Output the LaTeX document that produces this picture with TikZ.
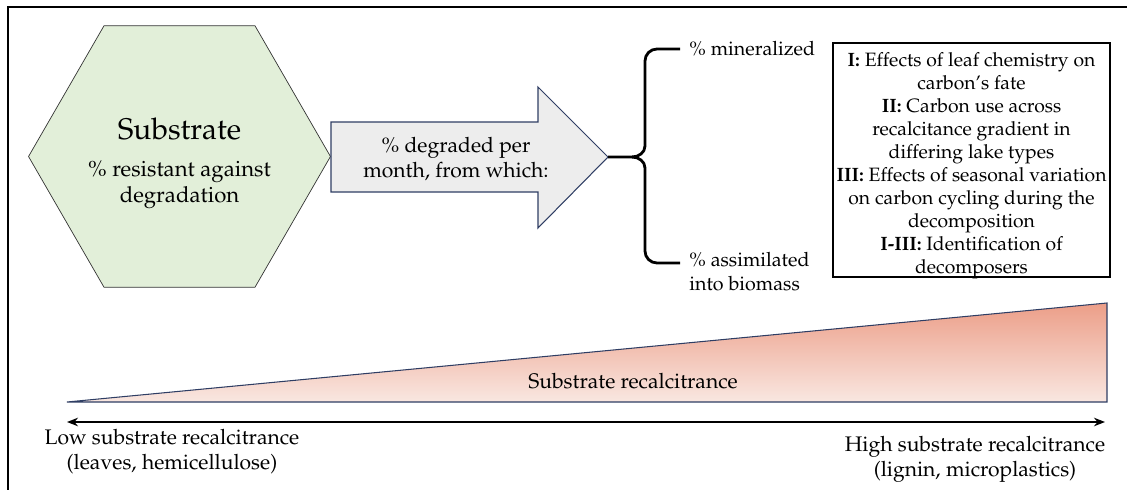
\documentclass[tikz,border=0pt]{standalone}
\usepackage[T1]{fontenc}
\usepackage{mathpazo}
\usetikzlibrary{shapes.geometric,arrows.meta}
\definecolor{leafgreen}{RGB}{226,239,217}
\definecolor{arrowgray}{RGB}{237,237,237}
\definecolor{navyline}{RGB}{47,62,100}
\definecolor{salmontop}{RGB}{236,158,136}
\definecolor{salmonbot}{RGB}{249,231,225}
\begin{document}
\begin{tikzpicture}[x=0.02cm, y=-0.02cm,
    hexa/.style ={regular polygon, regular polygon sides=6, draw=black!80, fill=leafgreen,
      minimum size=6.04cm, inner sep=0pt},
    fatarrow/.style ={draw=navyline, fill=arrowgray, line width=0.6pt},
    curly/.style ={line width=1.6pt},
    plain/.style ={align=center, inner sep=0pt, font=\fontsize{12}{14.2}\selectfont},
    side/.style ={align=left, inner sep=0pt, font=\fontsize{11.2}{13.4}\selectfont},
    studybox/.style ={draw, line width=0.9pt, minimum width=5.54cm, minimum height=4.68cm},
    wedge/.style ={draw=navyline, line width=0.6pt, top color=salmontop, bottom color=salmonbot},
    >={Stealth[length=0.22cm, width=0.17cm]}]
   \useasboundingbox (0,0) rectangle (1127,490);
   % frame
   \draw[line width=1.7pt] (8,490) -- (8,7) -- (1127,7);
   % substrate
   \node[hexa] (sub) at (179.5,156.5) {};
   \node[plain, font=\fontsize{12.6}{14.4}\selectfont] (subtxt) at (179.5,163)
     {{\fontsize{17}{20}\selectfont Substrate}\\[7pt]\% resistant against\\degradation};
   % degradation arrow
   \draw[fatarrow] (331,122) -- (538,122) -- (538,87) -- (608,157) -- (538,228) -- (538,192) -- (331,192) -- cycle;
   \coordinate (tip) at (608,157);
   \node[plain] (deg) at (456,159) {\% degraded per\\month, from which:};
   % brace
   \coordinate (btop) at (680,49);
   \coordinate (bbot) at (680,263);
   \draw[curly] (btop) -- (657,49) to[out=180,in=90] (645,61) -- (645,146) to[out=-90,in=0] (632,157) -- (tip);
   \draw[curly] (bbot) -- (657,263) to[out=180,in=-90] (645,251) -- (645,168) to[out=90,in=0] (632,157);
   \node[side, anchor=west] (mi) at (689,49) {\% mineralized};
   \node[side, anchor=north west] (as) at (689,252) {\% assimilated\\into biomass};
   % studies
   \node[studybox] (box) at (971.5,160) {};
   \node[plain, font=\fontsize{11}{13.1}\selectfont] (studies) at (971.5,166) {\textbf{I:} Effects of leaf chemistry on\\carbon's fate\\
     \textbf{II:} Carbon use across\\recalcitance gradient in\\differing lake types\\
     \textbf{III:} Effects of seasonal variation\\on carbon cycling during the\\decomposition\\
     \textbf{I-III:} Identification of\\decomposers};
   % gradient
   \draw[wedge] (67,402) -- (1107,303) -- (1107,402) -- cycle;
   \node[plain] (grad) at (633,381) {Substrate recalcitrance};
   \coordinate (lo) at (67,422);
   \coordinate (hi) at (1105,422);
   \draw[line width=1.5pt, <->] (lo) -- (hi);
   \node[plain] (low) at (172,452) {Low substrate recalcitrance\\(leaves, hemicellulose)};
   \node[plain] (high) at (975,459) {High substrate recalcitrance\\(lignin, microplastics)};
\end{tikzpicture}
\end{document}
